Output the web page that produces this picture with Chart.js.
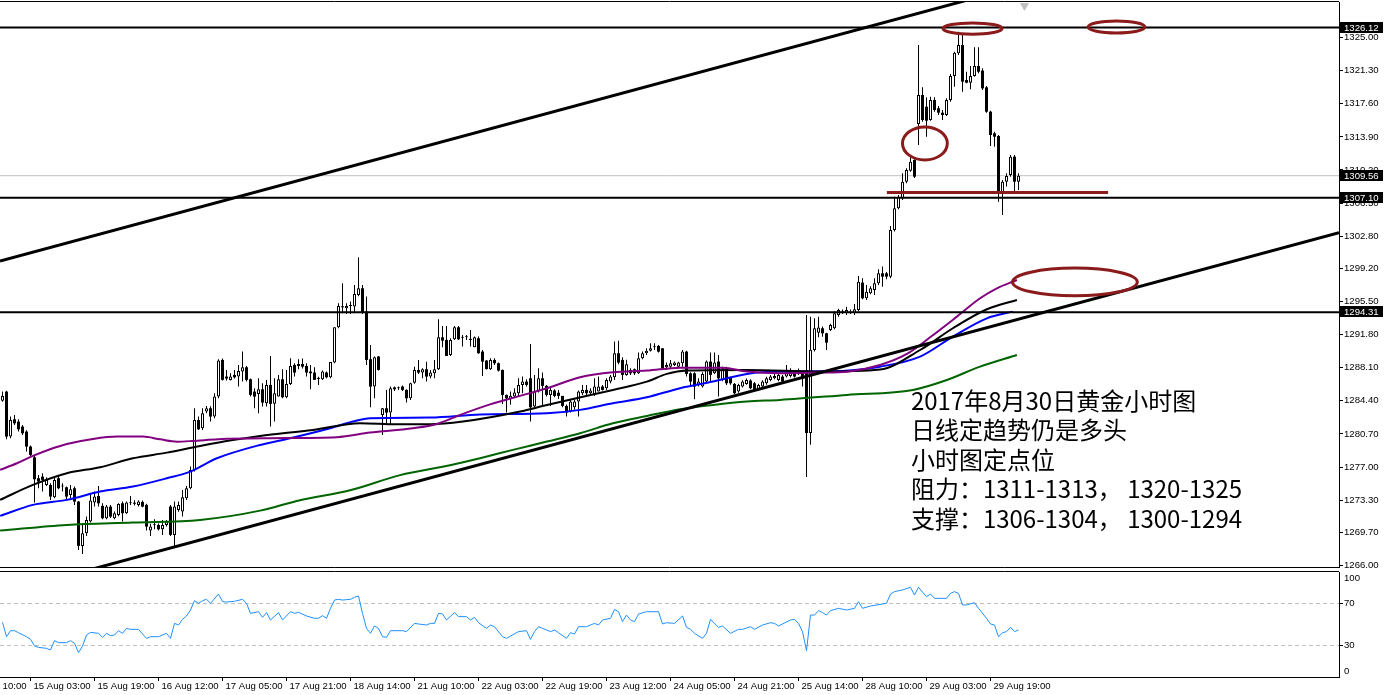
<!DOCTYPE html>
<html lang="zh">
<head>
<meta charset="UTF-8">
<title>2017年8月30日黄金小时图</title>
<script src="https://cdn.jsdelivr.net/npm/chart.js"></script>
<style>
    body { margin: 0; background: #fff; }
    #wrap { position: relative; width: 1384px; height: 695px; overflow: hidden; }
    #main { position: absolute; left: 0; top: 0; }
    #rsi { position: absolute; left: 0; top: 570px; }
</style>
</head>
<body>
<div id="wrap">
    <canvas id="main" width="1384" height="570"></canvas>
    <canvas id="rsi" width="1384" height="125"></canvas>
</div>
<script>
// ---- XAUUSD H1 bars, index 0 = first visible bar ----
const opens = [
    1284.42, 1285.43, 1280.40, 1282.34, 1282.08, 1281.52, 1280.96, 1279.29, 1278.09, 1275.75,
    1275.93, 1275.00, 1275.00, 1273.62, 1275.75, 1274.82, 1274.74, 1273.88, 1274.63, 1273.14,
    1268.19, 1269.60, 1270.91, 1273.03, 1273.77, 1272.66, 1271.28, 1272.58, 1271.28, 1271.65,
    1272.95, 1271.84, 1272.95, 1273.00, 1272.77, 1273.10, 1272.77, 1269.90, 1270.50, 1270.53,
    1270.05, 1270.53, 1272.58, 1269.42, 1272.20, 1272.02, 1273.51, 1274.63, 1276.68, 1282.26,
    1281.33, 1283.20, 1283.57, 1282.64, 1284.87, 1288.97, 1287.11, 1286.74, 1287.29, 1287.11,
    1287.67, 1288.15, 1286.81, 1285.43, 1285.17, 1285.69, 1284.13, 1286.18, 1284.06, 1284.87,
    1286.81, 1284.80, 1286.29, 1288.41, 1288.30, 1288.52, 1288.30, 1287.67, 1287.56, 1286.92,
    1286.81, 1287.56, 1287.03, 1288.67, 1292.62, 1294.90, 1294.74, 1295.00, 1294.93, 1296.23,
    1296.98, 1294.37, 1289.05, 1285.99, 1289.35, 1282.83, 1283.57, 1283.09, 1285.90, 1285.80,
    1285.99, 1285.62, 1284.69, 1286.43, 1287.85, 1287.56, 1287.93, 1287.11, 1287.48, 1287.93,
    1291.50, 1291.21, 1289.53, 1291.28, 1292.62, 1291.45, 1291.50, 1291.28, 1290.39, 1291.39,
    1289.90, 1288.90, 1287.93, 1288.97, 1288.60, 1287.85, 1285.06, 1284.57, 1284.87, 1285.25,
    1286.18, 1286.55, 1286.92, 1283.76, 1285.43, 1286.92, 1286.07, 1285.06, 1285.55, 1285.30,
    1284.95, 1283.83, 1283.20, 1283.68, 1284.32, 1285.25, 1285.62, 1285.25, 1285.17, 1285.43,
    1286.00, 1285.81, 1286.55, 1287.03, 1289.72, 1288.97, 1287.30, 1287.85, 1287.93, 1287.48,
    1289.16, 1289.72, 1290.01, 1290.38, 1290.54, 1290.27, 1288.15, 1288.22, 1288.41, 1288.22,
    1288.60, 1289.90, 1287.48, 1287.48, 1286.18, 1286.00, 1286.55, 1288.79, 1287.48, 1288.79,
    1286.74, 1288.04, 1287.03, 1286.29, 1285.43, 1286.00, 1286.29, 1286.67, 1286.36, 1285.62,
    1286.00, 1286.36, 1286.74, 1286.92, 1286.74, 1287.11, 1287.11, 1287.18, 1287.67, 1287.41,
    1287.48, 1287.85, 1280.80, 1290.08, 1292.00, 1292.51, 1291.95, 1292.32, 1292.51, 1293.99,
    1294.36, 1294.18, 1294.25, 1294.18, 1294.55, 1297.61, 1295.86, 1296.42, 1296.79, 1297.54,
    1298.65, 1298.65, 1298.28, 1303.50, 1305.92, 1307.03, 1308.89, 1310.12, 1311.32, 1315.34,
    1318.58, 1317.27, 1315.78, 1318.02, 1317.09, 1316.60, 1316.34, 1318.02, 1320.70, 1323.24,
    1324.16, 1320.25, 1319.95, 1320.70, 1321.82, 1321.30, 1319.43, 1316.71, 1314.29, 1314.00,
    1307.59, 1308.89, 1309.64, 1311.69, 1308.89
];
const highs = [
    1285.43, 1285.54, 1282.64, 1282.82, 1282.34, 1281.71, 1281.10, 1279.40, 1278.35, 1276.12,
    1276.31, 1275.86, 1275.20, 1275.93, 1276.12, 1275.19, 1274.82, 1275.00, 1274.82, 1273.20,
    1270.72, 1271.46, 1274.07, 1274.26, 1274.89, 1272.95, 1272.77, 1272.77, 1272.02, 1272.95,
    1273.14, 1273.14, 1273.77, 1273.30, 1273.30, 1273.25, 1272.90, 1270.65, 1271.17, 1270.70,
    1271.09, 1271.09, 1272.77, 1273.14, 1273.14, 1274.44, 1274.89, 1277.05, 1283.57, 1282.64,
    1283.57, 1283.83, 1283.80, 1285.24, 1289.05, 1289.12, 1287.85, 1287.48, 1287.85, 1288.41,
    1289.90, 1288.30, 1286.90, 1285.81, 1286.92, 1286.36, 1286.74, 1289.42, 1286.92, 1287.29,
    1287.93, 1287.85, 1289.16, 1288.60, 1289.05, 1289.12, 1288.60, 1288.41, 1288.15, 1287.10,
    1287.78, 1287.67, 1288.75, 1292.62, 1295.30, 1297.54, 1295.30, 1295.49, 1297.35, 1300.44,
    1297.35, 1296.05, 1290.65, 1289.35, 1289.42, 1283.60, 1285.60, 1285.99, 1286.00, 1286.00,
    1286.10, 1285.70, 1286.43, 1288.22, 1288.97, 1288.04, 1288.78, 1287.85, 1288.97, 1293.51,
    1292.77, 1292.77, 1291.39, 1292.77, 1292.77, 1291.76, 1291.76, 1292.32, 1291.58, 1291.58,
    1290.09, 1288.97, 1289.16, 1289.16, 1288.67, 1287.90, 1285.10, 1285.43, 1285.81, 1286.92,
    1287.11, 1286.81, 1290.76, 1287.30, 1288.04, 1287.56, 1286.18, 1286.00, 1285.69, 1285.60,
    1284.95, 1284.00, 1284.50, 1284.58, 1285.55, 1286.18, 1286.18, 1285.80, 1286.92, 1287.11,
    1286.18, 1286.92, 1287.30, 1291.02, 1291.10, 1289.27, 1289.00, 1288.04, 1288.00, 1289.79,
    1289.90, 1290.27, 1290.83, 1290.83, 1290.65, 1290.30, 1288.67, 1288.97, 1288.80, 1288.78,
    1290.09, 1290.00, 1287.60, 1287.60, 1286.92, 1287.60, 1288.90, 1289.79, 1289.79, 1289.53,
    1288.20, 1288.22, 1287.10, 1286.40, 1286.30, 1286.70, 1286.90, 1286.80, 1286.50, 1286.30,
    1286.70, 1287.10, 1287.30, 1287.40, 1287.50, 1287.30, 1288.41, 1288.04, 1287.80, 1288.00,
    1287.60, 1294.00, 1293.80, 1293.62, 1293.80, 1292.70, 1292.00, 1293.00, 1294.40, 1294.70,
    1294.60, 1294.90, 1294.60, 1295.23, 1298.35, 1298.09, 1297.35, 1297.20, 1298.09, 1299.10,
    1299.40, 1298.80, 1303.94, 1307.22, 1307.40, 1309.83, 1310.38, 1311.69, 1311.39, 1324.16,
    1319.43, 1318.32, 1318.39, 1318.32, 1317.35, 1316.90, 1318.20, 1320.92, 1323.42, 1325.65,
    1325.28, 1321.18, 1321.82, 1323.90, 1323.90, 1321.56, 1319.58, 1316.83, 1314.48, 1314.11,
    1309.08, 1309.83, 1311.87, 1311.87, 1309.83
];
const lows = [
    1284.31, 1280.10, 1280.22, 1281.71, 1280.96, 1280.59, 1278.73, 1278.17, 1273.03, 1274.63,
    1274.26, 1274.89, 1273.33, 1273.50, 1274.52, 1274.26, 1273.33, 1273.51, 1272.77, 1267.74,
    1267.29, 1269.30, 1270.80, 1272.58, 1272.58, 1271.17, 1271.17, 1271.30, 1271.17, 1271.50,
    1270.91, 1271.76, 1272.77, 1272.70, 1272.60, 1272.51, 1269.90, 1269.30, 1270.05, 1269.90,
    1269.42, 1270.35, 1269.30, 1268.11, 1272.00, 1271.46, 1273.33, 1274.52, 1276.49, 1281.15,
    1281.15, 1283.00, 1282.08, 1282.45, 1284.70, 1286.66, 1286.66, 1286.66, 1286.90, 1285.99,
    1286.55, 1286.55, 1284.87, 1283.57, 1283.01, 1283.76, 1283.76, 1281.52, 1282.08, 1284.87,
    1284.70, 1284.70, 1286.18, 1287.11, 1287.93, 1288.00, 1287.11, 1285.69, 1286.74, 1286.18,
    1286.74, 1286.92, 1286.92, 1288.60, 1292.50, 1294.18, 1294.11, 1294.11, 1294.18, 1296.10,
    1294.10, 1288.41, 1283.68, 1284.69, 1287.78, 1280.59, 1281.90, 1281.71, 1285.50, 1285.60,
    1285.50, 1284.20, 1284.50, 1286.30, 1287.41, 1286.92, 1286.55, 1286.92, 1286.92, 1287.85,
    1290.39, 1289.40, 1289.42, 1291.20, 1291.20, 1290.46, 1291.20, 1290.46, 1290.39, 1289.65,
    1287.18, 1287.90, 1287.85, 1288.41, 1287.67, 1284.05, 1283.09, 1283.95, 1284.69, 1284.87,
    1285.25, 1286.00, 1282.08, 1283.68, 1285.32, 1283.94, 1284.87, 1283.83, 1284.80, 1284.60,
    1283.68, 1282.64, 1283.09, 1283.39, 1282.64, 1285.06, 1284.95, 1285.10, 1284.95, 1285.43,
    1285.55, 1285.62, 1286.36, 1286.74, 1288.50, 1286.74, 1287.20, 1287.30, 1287.30, 1287.41,
    1289.05, 1289.53, 1289.90, 1290.09, 1289.80, 1287.93, 1287.85, 1288.10, 1288.30, 1288.10,
    1288.22, 1287.11, 1286.00, 1284.58, 1286.00, 1285.90, 1286.40, 1286.55, 1287.40, 1284.87,
    1286.60, 1286.18, 1286.20, 1285.17, 1285.30, 1285.90, 1286.20, 1285.70, 1285.50, 1285.50,
    1285.90, 1286.20, 1286.60, 1286.80, 1286.60, 1286.40, 1287.00, 1287.00, 1287.00, 1287.30,
    1286.00, 1275.90, 1279.50, 1289.90, 1291.50, 1291.57, 1290.08, 1292.20, 1292.40, 1293.80,
    1294.10, 1294.00, 1294.10, 1294.00, 1294.40, 1295.75, 1295.67, 1296.30, 1296.23, 1297.35,
    1297.16, 1298.00, 1298.09, 1303.31, 1305.80, 1306.85, 1308.71, 1310.01, 1309.30, 1312.99,
    1315.60, 1313.92, 1315.71, 1316.71, 1316.34, 1315.78, 1316.23, 1317.83, 1319.51, 1323.05,
    1318.95, 1319.88, 1319.21, 1320.63, 1321.00, 1319.14, 1316.60, 1312.88, 1312.80, 1306.66,
    1305.17, 1308.34, 1309.45, 1307.78, 1307.96
];
const closes = [
    1284.95, 1280.40, 1282.26, 1281.89, 1281.22, 1280.77, 1279.29, 1278.35, 1275.64, 1275.37,
    1275.56, 1275.56, 1273.70, 1275.56, 1274.63, 1274.90, 1273.70, 1274.52, 1273.14, 1268.19,
    1269.60, 1271.09, 1273.25, 1273.70, 1272.95, 1271.28, 1272.58, 1271.46, 1271.84, 1272.88,
    1271.84, 1273.03, 1273.05, 1272.90, 1273.14, 1272.58, 1270.35, 1270.35, 1270.60, 1270.05,
    1270.53, 1270.91, 1269.42, 1272.58, 1272.77, 1273.62, 1274.63, 1276.68, 1282.26, 1281.22,
    1283.01, 1283.57, 1282.64, 1284.87, 1288.90, 1286.74, 1286.89, 1287.11, 1287.03, 1287.74,
    1288.15, 1286.74, 1285.06, 1284.87, 1285.69, 1284.20, 1286.18, 1284.06, 1285.25, 1286.81,
    1284.80, 1286.29, 1288.30, 1287.56, 1288.52, 1288.22, 1287.56, 1287.48, 1286.74, 1286.85,
    1287.67, 1287.03, 1288.75, 1292.62, 1295.00, 1294.85, 1295.00, 1295.05, 1296.34, 1296.98,
    1294.26, 1288.97, 1285.99, 1289.27, 1287.85, 1283.57, 1283.09, 1285.81, 1285.69, 1285.85,
    1285.62, 1284.69, 1286.36, 1287.85, 1287.56, 1287.93, 1287.11, 1287.56, 1287.93, 1291.50,
    1291.13, 1289.42, 1291.21, 1292.62, 1291.28, 1291.50, 1291.55, 1291.21, 1291.50, 1289.72,
    1288.78, 1287.95, 1288.97, 1288.60, 1287.78, 1285.06, 1284.69, 1284.98, 1285.32, 1286.18,
    1286.55, 1286.18, 1283.68, 1285.43, 1286.92, 1286.07, 1285.06, 1285.62, 1284.95, 1284.95,
    1283.83, 1283.09, 1284.32, 1284.32, 1285.43, 1285.62, 1285.25, 1285.55, 1286.00, 1286.00,
    1285.62, 1286.74, 1287.11, 1289.72, 1288.67, 1287.30, 1288.50, 1287.48, 1287.48, 1289.16,
    1289.72, 1290.01, 1290.27, 1290.45, 1289.90, 1288.04, 1288.41, 1288.60, 1288.67, 1288.67,
    1289.90, 1287.41, 1286.55, 1286.00, 1286.55, 1287.40, 1288.79, 1287.30, 1288.67, 1286.92,
    1288.04, 1286.36, 1286.36, 1285.25, 1286.18, 1286.55, 1286.74, 1285.81, 1285.62, 1286.18,
    1286.55, 1286.92, 1287.11, 1287.18, 1287.30, 1286.55, 1287.56, 1287.67, 1287.11, 1287.85,
    1286.92, 1280.80, 1290.10, 1292.51, 1292.60, 1291.95, 1290.90, 1292.88, 1294.18, 1294.55,
    1294.40, 1294.55, 1294.30, 1294.63, 1297.72, 1295.86, 1296.60, 1296.98, 1297.54, 1298.65,
    1298.28, 1298.28, 1303.50, 1305.92, 1307.22, 1308.89, 1310.20, 1311.13, 1309.45, 1318.58,
    1315.78, 1315.71, 1318.02, 1316.90, 1316.60, 1316.34, 1318.02, 1320.70, 1323.31, 1324.16,
    1320.07, 1319.95, 1320.70, 1321.82, 1321.18, 1319.32, 1316.71, 1314.11, 1313.92, 1307.59,
    1308.89, 1309.53, 1311.69, 1308.89, 1309.56
];

// moving averages at these bars
const maPurpleBar = [-0.6, 3.6, 7.6, 11.9, 16.1, 22.6, 28.6, 35.1, 39.4, 43.6, 47.6, 53.9, 66.9, 83.6, 91.9, 102.6, 108.6, 115.1, 121.9, 129.4, 136.1, 144.4, 152.6, 161.1, 169.4, 180.1, 186.1, 194.4, 204.4, 211.1, 219.4, 226.1, 231.9, 238.6, 244.4, 248.6, 253.6];
const maPurpleVal = [1276.68, 1277.42, 1278.24, 1278.99, 1279.58, 1280.14, 1280.40, 1280.40, 1280.10, 1279.84, 1279.92, 1280.11, 1280.22, 1280.33, 1280.85, 1281.34, 1281.82, 1282.94, 1284.00, 1284.95, 1285.81, 1287.03, 1287.59, 1287.78, 1288.11, 1288.11, 1287.67, 1287.48, 1287.56, 1287.66, 1288.41, 1289.64, 1291.50, 1293.81, 1295.86, 1296.97, 1297.90];
const maBlackBar = [-0.6, 7.6, 16.1, 24.4, 32.6, 41.1, 49.4, 57.6, 64.4, 77.6, 89.4, 98.6, 106.9, 115.1, 129.4, 136.1, 152.6, 161.1, 166.1, 171.1, 186.1, 204.4, 219.4, 229.4, 237.6, 246.1, 253.6];
const maBlackVal = [1273.33, 1275.00, 1276.31, 1276.98, 1277.98, 1278.61, 1279.36, 1280.03, 1280.48, 1281.15, 1281.90, 1281.78, 1281.78, 1282.08, 1283.20, 1283.94, 1285.62, 1286.55, 1287.41, 1287.78, 1287.85, 1287.67, 1287.90, 1290.08, 1292.51, 1294.63, 1295.67];
const maBlueBar = [-0.6, 7.6, 16.1, 24.4, 32.6, 41.1, 46.9, 53.6, 64.4, 71.9, 81.9, 87.6, 91.9, 106.9, 119.4, 136.1, 144.4, 152.6, 161.1, 169.4, 177.6, 186.1, 194.4, 206.9, 219.4, 229.4, 237.6, 246.1, 252.6];
const maBlueVal = [1271.54, 1272.77, 1273.33, 1274.26, 1274.82, 1275.75, 1276.49, 1277.98, 1279.47, 1280.22, 1281.34, 1282.08, 1282.45, 1282.53, 1282.87, 1283.01, 1283.39, 1284.13, 1284.80, 1285.81, 1286.55, 1287.41, 1287.67, 1287.70, 1288.22, 1289.34, 1291.58, 1293.62, 1294.37];
const maGreenBar = [-0.6, 16.1, 32.6, 49.4, 64.4, 74.4, 86.9, 99.4, 111.9, 119.4, 127.6, 136.1, 144.4, 152.6, 161.1, 169.4, 177.6, 186.1, 194.4, 211.1, 227.6, 236.1, 244.4, 253.6];
const maGreenVal = [1269.90, 1270.53, 1270.80, 1271.09, 1272.13, 1273.30, 1274.40, 1276.10, 1277.20, 1277.99, 1278.92, 1279.85, 1280.78, 1281.90, 1282.71, 1283.46, 1283.94, 1284.32, 1284.50, 1285.06, 1285.62, 1286.73, 1288.22, 1289.53];

// RSI, read at these bars
const rsiBar = [0, 1, 2, 3, 4, 6, 7, 8, 9, 11, 12, 13, 14, 16, 17, 18, 19, 20, 21, 22, 24, 25, 26, 27, 28, 29, 30, 31, 32, 34, 36, 37, 39, 41, 42, 43, 44, 45, 46, 47, 48, 49, 50, 51, 52, 54, 55, 56, 58, 60, 61, 62, 64, 65, 66, 67, 69, 70, 72, 73, 74, 76, 78, 79, 80, 81, 82, 83, 84, 85, 87, 88, 89, 90, 91, 92, 93, 94, 95, 96, 97, 100, 101, 103, 104, 106, 107, 108, 109, 110, 111, 113, 114, 116, 117, 118, 119, 121, 122, 123, 125, 126, 127, 129, 131, 132, 133, 134, 135, 137, 138, 139, 141, 142, 143, 144, 146, 148, 149, 150, 152, 153, 154, 155, 156, 157, 158, 159, 161, 164, 165, 166, 168, 170, 171, 172, 173, 175, 176, 177, 179, 180, 182, 184, 185, 187, 188, 190, 192, 193, 194, 195, 197, 198, 199, 200, 201, 202, 203, 204, 205, 206, 207, 209, 211, 213, 214, 215, 217, 220, 221, 222, 223, 225, 227, 228, 229, 231, 232, 233, 236, 237, 238, 239, 240, 241, 243, 244, 246, 247, 248, 249, 250, 251, 252, 253, 254];
const rsiVal = [52.1, 38.4, 44.1, 44.1, 42.2, 38.4, 35.9, 29.5, 28.2, 27.3, 25.7, 34.6, 32.7, 32.7, 34.6, 32.1, 23.2, 29.5, 40.0, 42.5, 41.6, 37.8, 41.6, 39.4, 40.0, 44.1, 41.6, 46.3, 45.4, 45.4, 36.8, 38.4, 38.4, 41.6, 36.8, 51.1, 49.5, 54.9, 58.1, 63.8, 72.7, 70.2, 72.7, 74.0, 70.2, 79.0, 71.7, 71.4, 72.1, 74.0, 70.2, 60.6, 62.2, 56.8, 61.3, 54.3, 61.3, 54.3, 62.2, 60.6, 61.6, 58.1, 55.9, 55.9, 58.4, 55.9, 65.4, 73.3, 74.0, 73.3, 74.0, 75.9, 77.1, 60.6, 46.3, 41.6, 48.6, 46.3, 38.4, 37.8, 44.1, 44.1, 43.2, 51.1, 50.5, 49.5, 51.1, 51.1, 60.6, 60.0, 54.3, 61.3, 57.5, 57.5, 54.3, 56.8, 51.7, 46.3, 49.5, 47.9, 38.4, 36.8, 39.0, 43.2, 44.1, 35.9, 43.2, 47.9, 46.3, 43.2, 44.8, 42.2, 36.8, 42.2, 40.9, 47.9, 47.9, 51.1, 49.5, 54.3, 55.9, 64.4, 62.2, 52.7, 59.0, 54.3, 52.7, 60.0, 62.2, 62.2, 50.5, 51.7, 51.1, 58.1, 47.3, 45.4, 41.6, 36.8, 41.6, 54.9, 47.3, 48.6, 41.6, 45.4, 45.4, 47.9, 45.4, 49.5, 51.7, 51.1, 48.6, 50.5, 54.3, 54.9, 51.1, 43.2, 25.1, 59.0, 59.0, 63.2, 61.3, 59.0, 63.2, 65.4, 63.8, 65.4, 71.7, 65.4, 67.6, 69.5, 70.2, 79.0, 81.3, 82.9, 85.4, 78.1, 85.4, 76.5, 79.0, 74.9, 74.9, 79.7, 81.3, 79.7, 68.6, 68.6, 70.8, 65.4, 55.9, 50.5, 49.5, 38.4, 42.2, 43.2, 47.3, 43.2, 44.8];
const rsiLevels = [70, 30];

// axes
const priceTicks = [1325.00, 1321.30, 1317.60, 1313.90, 1310.20, 1306.50, 1302.80, 1299.20, 1295.50, 1291.80, 1288.10, 1284.40, 1280.70, 1277.00, 1273.30, 1269.70, 1266.00];
const timeTickBar = [-9, 7, 23, 39, 55, 71, 87, 103, 119, 135, 151, 167, 183, 199, 215, 231, 247];
const timeTickText = ['14 Aug 10:00', '15 Aug 03:00', '15 Aug 19:00', '16 Aug 12:00', '17 Aug 05:00', '17 Aug 21:00', '18 Aug 14:00', '21 Aug 10:00', '22 Aug 03:00', '22 Aug 19:00', '23 Aug 12:00', '24 Aug 05:00', '24 Aug 21:00', '25 Aug 14:00', '28 Aug 10:00', '29 Aug 03:00', '29 Aug 19:00'];

// drawn objects
const hLevels = [1326.12, 1307.10, 1294.31];
const lastPrice = 1309.56;
const priceMarks = [1326.12, 1309.56, 1307.10, 1294.31];
const trendUpper = [[-0.625, 1300.03], [260, 1331.45]];
const trendLower = [[20, 1265.30], [334.125, 1303.18]];
const supportMark = [[221.1, 1307.68], [276.4, 1307.68]];
// ovals: [bar, price, half width in bars, half height in price]
const ovals = [[242.5, 1326.00, 7.4, 0.63], [278.5, 1326.17, 7.1, 0.67], [230.6, 1313.16, 5.6, 1.84], [268.1, 1297.68, 15.6, 1.55]];
const noteLines = ['2017年8月30日黄金小时图', '日线定趋势仍是多头', '小时图定点位', '阻力：1311-1313， 1320-1325', '支撑：1306-1304， 1300-1294'];
const noteAt = [227.1, 1283.4];

const X_MIN = -0.625, X_MAX = 334.125;
const darkRed = '#8b1a1a';
const axisFont = { family: '"Liberation Sans", Arial, sans-serif', size: 9.6 };

function pts(bars, vals) {
    return bars.map((b, i) => ({ x: b, y: vals[i] }));
}
function seg(p) {
    return p.map(q => ({ x: q[0], y: q[1] }));
}
function lineSet(data, color, width, order, extra) {
    return Object.assign({
        type: 'line', data: data, borderColor: color, borderWidth: width,
        pointRadius: 0, fill: false, order: order
    }, extra || {});
}

const wickData = [], bullData = [], bearData = [];
for (let i = 0; i < closes.length; i++) {
    wickData.push({ x: i, y: [lows[i], highs[i]] });
    if (closes[i] > opens[i]) bullData.push({ x: i, y: [opens[i], closes[i]] });
    else bearData.push({ x: i, y: [closes[i], opens[i]] });
}

const overlayPlugin = {
    id: 'overlay',
    afterDatasetsDraw(chart) {
        const { ctx, chartArea: a, scales: { x, y } } = chart;
        ctx.save();
        ctx.beginPath();
        ctx.rect(a.left, a.top, a.right - a.left, a.bottom - a.top);
        ctx.clip();
        ctx.strokeStyle = darkRed;
        ctx.lineWidth = 3;
        ovals.forEach(o => {
            const cx = x.getPixelForValue(o[0]), cy = y.getPixelForValue(o[1]);
            const rx = Math.abs(x.getPixelForValue(o[0] + o[2]) - cx);
            const ry = Math.abs(y.getPixelForValue(o[1] + o[3]) - cy);
            ctx.beginPath();
            ctx.ellipse(cx, cy, rx, ry, 0, 0, Math.PI * 2);
            ctx.stroke();
        });
        // note text
        ctx.fillStyle = '#000';
        ctx.font = '24px "Noto Sans CJK SC", sans-serif';
        ctx.textBaseline = 'alphabetic';
        ctx.textAlign = 'left';
        const tx = x.getPixelForValue(noteAt[0]), ty = y.getPixelForValue(noteAt[1]);
        noteLines.forEach((t, i) => ctx.fillText(t, tx, ty + i * 29.5));
        ctx.restore();
    },
    afterDraw(chart) {
        const { ctx, chartArea: a, scales: { y } } = chart;
        ctx.save();
        ctx.strokeStyle = '#000';
        ctx.lineWidth = 1;
        ctx.beginPath();
        ctx.moveTo(0, a.top - 0.5); ctx.lineTo(a.right, a.top - 0.5);
        ctx.moveTo(0, a.bottom + 0.5); ctx.lineTo(a.right, a.bottom + 0.5);
        ctx.stroke();
        ctx.font = axisFont.size + 'px ' + axisFont.family;
        ctx.textBaseline = 'middle';
        priceMarks.forEach(v => {
            const py = Math.round(y.getPixelForValue(v));
            ctx.fillStyle = '#000';
            ctx.fillRect(a.right + 1, py - 6, 43, 11);
            ctx.fillStyle = '#fff';
            ctx.fillText(v.toFixed(2), a.right + 5, py);
        });
        ctx.restore();
    }
};

new Chart(document.getElementById('main'), {
    type: 'bar',
    data: {
        datasets: [
            lineSet(seg(supportMark), darkRed, 3, 0),
            { type: 'scatter', data: [{ x: 255.5, y: 1328.55 }], pointStyle: 'triangle', rotation: 180, radius: 4.5, backgroundColor: '#c0c0c0', borderColor: '#c0c0c0', order: 0 },
            lineSet(seg(trendUpper), '#000', 3, 1),
            lineSet(seg(trendLower), '#000', 3, 1),
            ...hLevels.map(v => lineSet([{ x: X_MIN, y: v }, { x: X_MAX, y: v }], '#000', 2, 1)),
            lineSet(pts(maPurpleBar, maPurpleVal), '#800080', 2, 2, { cubicInterpolationMode: 'monotone' }),
            lineSet(pts(maBlackBar, maBlackVal), '#000', 2, 2, { cubicInterpolationMode: 'monotone' }),
            lineSet(pts(maBlueBar, maBlueVal), '#0000ff', 2, 2, { cubicInterpolationMode: 'monotone' }),
            lineSet(pts(maGreenBar, maGreenVal), '#006400', 2, 2, { cubicInterpolationMode: 'monotone' }),
            { data: bullData, backgroundColor: '#fff', borderColor: '#000', borderWidth: 1, borderSkipped: false, barThickness: 3, grouped: false, inflateAmount: 0, minBarLength: 1, order: 3 },
            { data: bearData, backgroundColor: '#000', borderWidth: 0, barThickness: 3, grouped: false, inflateAmount: 0, minBarLength: 1, order: 3 },
            { data: wickData, backgroundColor: '#000', borderWidth: 0, barThickness: 1, grouped: false, inflateAmount: 0, order: 4 },
            lineSet([{ x: X_MIN, y: lastPrice }, { x: X_MAX, y: lastPrice }], '#c0c0c0', 1, 5)
        ]
    },
    options: {
        responsive: false,
        animation: false,
        devicePixelRatio: 1,
        events: [],
        layout: { autoPadding: false, padding: { top: 2, bottom: 3, left: 0, right: 0 } },
        plugins: { legend: { display: false }, tooltip: { enabled: false } },
        scales: {
            x: {
                type: 'linear', min: X_MIN, max: X_MAX, bounds: 'data', offset: false, display: false, grid: { offset: false },
                afterFit(s) { s.paddingLeft = 0; s.paddingRight = 0; }
            },
            y: {
                type: 'linear', position: 'right', min: 1265.83, max: 1328.97, bounds: 'data', beginAtZero: false,
                afterFit(s) { s.width = 45; s.paddingTop = 0; s.paddingBottom = 0; },
                afterBuildTicks(s) { s.ticks = priceTicks.map(v => ({ value: v })); },
                grid: { drawOnChartArea: false, color: '#000', tickLength: 4 },
                border: { color: '#000' },
                ticks: { color: '#000', font: axisFont, padding: 1, callback: v => v.toFixed(2) }
            }
        }
    },
    plugins: [overlayPlugin]
});

const rsiPlugin = {
    id: 'rsiFrame',
    afterDraw(chart) {
        const { ctx, chartArea: a } = chart;
        ctx.save();
        ctx.strokeStyle = '#000';
        ctx.beginPath();
        ctx.moveTo(0, a.top - 0.5); ctx.lineTo(a.right, a.top - 0.5);
        ctx.stroke();
        ctx.fillStyle = '#000';
        ctx.font = axisFont.size + 'px ' + axisFont.family;
        ctx.textBaseline = 'middle';
        ctx.fillText('100', a.right + 5, a.top + 6);
        ctx.fillText('0', a.right + 5, a.bottom - 6);
        ctx.restore();
    }
};

new Chart(document.getElementById('rsi'), {
    type: 'line',
    data: {
        datasets: [
            ...rsiLevels.map(v => lineSet([{ x: X_MIN, y: v }, { x: X_MAX, y: v }], '#c0c0c0', 1, 2, { borderDash: [4, 3] })),
            lineSet(pts(rsiBar, rsiVal), '#1e90ff', 1, 1)
        ]
    },
    options: {
        responsive: false,
        animation: false,
        devicePixelRatio: 1,
        events: [],
        layout: { autoPadding: false, padding: { top: 2, bottom: 0, left: 0, right: 0 } },
        plugins: { legend: { display: false }, tooltip: { enabled: false } },
        scales: {
            x: {
                type: 'linear', min: X_MIN, max: X_MAX, bounds: 'data', offset: false,
                afterFit(s) { s.height = 18; s.paddingLeft = 0; s.paddingRight = 0; },
                afterBuildTicks(s) { s.ticks = timeTickBar.map(v => ({ value: v })); },
                grid: { drawOnChartArea: false, color: '#000', tickLength: 4, offset: false },
                border: { color: '#000' },
                ticks: { color: '#000', font: axisFont, padding: 0, align: 'start', labelOffset: 3, autoSkip: false, maxRotation: 0, callback: (v, i) => timeTickText[i] }
            },
            y: {
                type: 'linear', position: 'right', min: 0, max: 100, bounds: 'data',
                afterFit(s) { s.width = 45; s.paddingTop = 0; s.paddingBottom = 0; },
                afterBuildTicks(s) { s.ticks = rsiLevels.map(v => ({ value: v })); },
                grid: { drawOnChartArea: false, color: '#000', tickLength: 4 },
                border: { color: '#000' },
                ticks: { color: '#000', font: axisFont, padding: 1 }
            }
        }
    },
    plugins: [rsiPlugin]
});
</script>
</body>
</html>
